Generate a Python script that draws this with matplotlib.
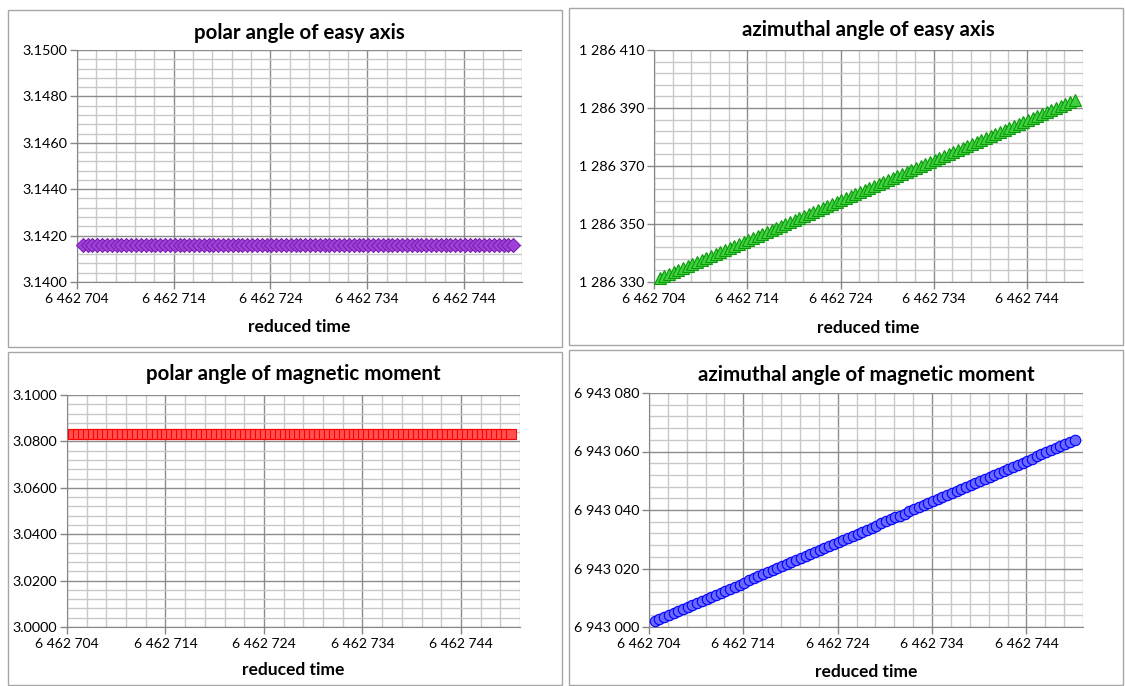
import matplotlib
matplotlib.use('Agg')
import matplotlib.pyplot as plt
from matplotlib.patches import Rectangle
from matplotlib.ticker import MultipleLocator, FuncFormatter

plt.rcParams['font.family'] = ['Lato', 'DejaVu Sans']

# reduced time (shared by all four series)
reduced_time = [
    6462704.6, 6462705.1, 6462705.6, 6462706.1, 6462706.6, 6462707.1, 6462707.6, 6462708.1, 6462708.6, 6462709.1,
    6462709.6, 6462710.1, 6462710.6, 6462711.1, 6462711.6, 6462712.1, 6462712.6, 6462713.1, 6462713.6, 6462714.1,
    6462714.6, 6462715.1, 6462715.6, 6462716.1, 6462716.6, 6462717.1, 6462717.6, 6462718.1, 6462718.6, 6462719.1,
    6462719.6, 6462720.1, 6462720.6, 6462721.1, 6462721.6, 6462722.1, 6462722.6, 6462723.1, 6462723.6, 6462724.1,
    6462724.6, 6462725.1, 6462725.6, 6462726.1, 6462726.6, 6462727.1, 6462727.6, 6462728.1, 6462728.6, 6462729.1,
    6462729.6, 6462730.1, 6462730.6, 6462731.1, 6462731.6, 6462732.1, 6462732.6, 6462733.1, 6462733.6, 6462734.1,
    6462734.6, 6462735.1, 6462735.6, 6462736.1, 6462736.6, 6462737.1, 6462737.6, 6462738.1, 6462738.6, 6462739.1,
    6462739.6, 6462740.1, 6462740.6, 6462741.1, 6462741.6, 6462742.1, 6462742.6, 6462743.1, 6462743.6, 6462744.1,
    6462744.6, 6462745.1, 6462745.6, 6462746.1, 6462746.6, 6462747.1, 6462747.6, 6462748.1, 6462748.6, 6462749.1,
]

polar_easy = [
    3.14159, 3.14159, 3.14159, 3.14159, 3.14159, 3.14159, 3.14159, 3.14159, 3.14159, 3.14159,
    3.14159, 3.14159, 3.14159, 3.14159, 3.14159, 3.14159, 3.14159, 3.14159, 3.14159, 3.14159,
    3.14159, 3.14159, 3.14159, 3.14159, 3.14159, 3.14159, 3.14159, 3.14159, 3.14159, 3.14159,
    3.14159, 3.14159, 3.14159, 3.14159, 3.14159, 3.14159, 3.14159, 3.14159, 3.14159, 3.14159,
    3.14159, 3.14159, 3.14159, 3.14159, 3.14159, 3.14159, 3.14159, 3.14159, 3.14159, 3.14159,
    3.14159, 3.14159, 3.14159, 3.14159, 3.14159, 3.14159, 3.14159, 3.14159, 3.14159, 3.14159,
    3.14159, 3.14159, 3.14159, 3.14159, 3.14159, 3.14159, 3.14159, 3.14159, 3.14159, 3.14159,
    3.14159, 3.14159, 3.14159, 3.14159, 3.14159, 3.14159, 3.14159, 3.14159, 3.14159, 3.14159,
    3.14159, 3.14159, 3.14159, 3.14159, 3.14159, 3.14159, 3.14159, 3.14159, 3.14159, 3.14159,
]

azimuthal_easy = [
    1286331.4, 1286332.1, 1286332.8, 1286333.5, 1286334.2, 1286334.9, 1286335.5, 1286336.2, 1286336.9, 1286337.6,
    1286338.3, 1286339.0, 1286339.7, 1286340.4, 1286341.1, 1286341.8, 1286342.4, 1286343.1, 1286343.8, 1286344.5,
    1286345.2, 1286345.9, 1286346.6, 1286347.3, 1286348.0, 1286348.7, 1286349.3, 1286350.0, 1286350.7, 1286351.4,
    1286352.1, 1286352.8, 1286353.5, 1286354.2, 1286354.9, 1286355.6, 1286356.2, 1286356.9, 1286357.6, 1286358.3,
    1286359.0, 1286359.7, 1286360.4, 1286361.1, 1286361.8, 1286362.5, 1286363.1, 1286363.8, 1286364.5, 1286365.2,
    1286365.9, 1286366.6, 1286367.3, 1286368.0, 1286368.7, 1286369.4, 1286370.0, 1286370.7, 1286371.4, 1286372.1,
    1286372.8, 1286373.5, 1286374.2, 1286374.9, 1286375.6, 1286376.3, 1286376.9, 1286377.6, 1286378.3, 1286379.0,
    1286379.7, 1286380.4, 1286381.1, 1286381.8, 1286382.5, 1286383.2, 1286383.8, 1286384.5, 1286385.2, 1286385.9,
    1286386.6, 1286387.3, 1286388.0, 1286388.7, 1286389.4, 1286390.1, 1286390.7, 1286391.4, 1286392.1, 1286392.8,
]

polar_moment = [
    3.0834, 3.0834, 3.0834, 3.0834, 3.0834, 3.0834, 3.0834, 3.0834, 3.0834, 3.0834,
    3.0834, 3.0834, 3.0834, 3.0834, 3.0834, 3.0834, 3.0834, 3.0834, 3.0834, 3.0834,
    3.0834, 3.0834, 3.0834, 3.0834, 3.0834, 3.0834, 3.0834, 3.0834, 3.0834, 3.0834,
    3.0834, 3.0834, 3.0834, 3.0834, 3.0834, 3.0834, 3.0834, 3.0834, 3.0834, 3.0834,
    3.0834, 3.0834, 3.0834, 3.0834, 3.0834, 3.0834, 3.0834, 3.0834, 3.0834, 3.0834,
    3.0834, 3.0834, 3.0834, 3.0834, 3.0834, 3.0834, 3.0834, 3.0834, 3.0834, 3.0834,
    3.0834, 3.0834, 3.0834, 3.0834, 3.0834, 3.0834, 3.0834, 3.0834, 3.0834, 3.0834,
    3.0834, 3.0834, 3.0834, 3.0834, 3.0834, 3.0834, 3.0834, 3.0834, 3.0834, 3.0834,
    3.0834, 3.0834, 3.0834, 3.0834, 3.0834, 3.0834, 3.0834, 3.0834, 3.0834, 3.0834,
]

azimuthal_moment = [
    6943002.0, 6943002.7, 6943003.4, 6943004.1, 6943004.8, 6943005.5, 6943006.2, 6943006.9, 6943007.6, 6943008.3,
    6943009.0, 6943009.7, 6943010.3, 6943011.0, 6943011.7, 6943012.4, 6943013.1, 6943013.8, 6943014.5, 6943015.2,
    6943015.9, 6943016.6, 6943017.3, 6943018.0, 6943018.7, 6943019.4, 6943020.1, 6943020.8, 6943021.5, 6943022.2,
    6943022.9, 6943023.6, 6943024.2, 6943024.9, 6943025.6, 6943026.3, 6943027.0, 6943027.7, 6943028.4, 6943029.1,
    6943029.8, 6943030.5, 6943031.2, 6943031.9, 6943032.6, 6943033.3, 6943034.0, 6943034.7, 6943035.4, 6943036.1,
    6943036.8, 6943037.5, 6943038.1, 6943038.8, 6943039.5, 6943040.2, 6943040.9, 6943041.6, 6943042.3, 6943043.0,
    6943043.7, 6943044.4, 6943045.1, 6943045.8, 6943046.5, 6943047.2, 6943047.9, 6943048.6, 6943049.3, 6943050.0,
    6943050.7, 6943051.4, 6943052.0, 6943052.7, 6943053.4, 6943054.1, 6943054.8, 6943055.5, 6943056.2, 6943056.9,
    6943057.6, 6943058.3, 6943059.0, 6943059.7, 6943060.4, 6943061.1, 6943061.8, 6943062.5, 6943063.2, 6943063.9,
]

W, H = 1125, 686
fig = plt.figure(figsize=(W / 100, H / 100), dpi=100)


def px_rect(x0, x1, y0, y1):
    return [x0 / W, 1 - y1 / H, (x1 - x0) / W, (y1 - y0) / H]


def spaced(v, pos):
    return f'{v:,.0f}'.replace(',', ' ')


# panel frames
for (x0, x1, y0, y1) in [(8, 562, 10, 347), (569, 1123, 8, 345), (8, 562, 352, 685), (569, 1123, 350, 685)]:
    fig.patches.append(Rectangle((x0 / W, 1 - y1 / H), (x1 - x0) / W, (y1 - y0) / H,
                                 transform=fig.transFigure, fill=False, edgecolor='#a6a6a6', linewidth=1.0))

panels = [
    # plot box, title, y data, ylim, major step, major offset, minor step, minor offset, y format,
    # marker, face, edge, size, title y, xlabel y
    ((77, 522, 50, 282), 'polar angle of easy axis', polar_easy, (3.14, 3.15), 0.002, 0, 0.0004, 0,
     FuncFormatter(lambda v, p: f'{v:.4f}'), 'D', '#a040d8', '#7a20b0', 7, 33, 327),
    ((654, 1083, 50, 282), 'azimuthal angle of easy axis', azimuthal_easy, (1286330, 1286410), 20, 10, 4, 2,
     FuncFormatter(spaced), '^', '#40d040', '#0a9a0a', 8.5, 30, 328),
    ((67, 520, 395, 627), 'polar angle of magnetic moment', polar_moment, (3.0, 3.1), 0.02, 0, 0.004, 0,
     FuncFormatter(lambda v, p: f'{v:.4f}'), 's', '#ff5050', '#ff0000', 7, 374, 670),
    ((649, 1083, 393, 627), 'azimuthal angle of magnetic moment', azimuthal_moment, (6943000, 6943080), 20, 0, 4, 0,
     FuncFormatter(spaced), 'o', '#6a6aff', '#0000ff', 7.5, 375, 672),
]

for box, title, ydata, ylim, ymaj, ymaj_off, ymin, ymin_off, yfmt, mk, fc, ec, ms, ty, ly in panels:
    ax = fig.add_axes(px_rect(*box))
    ax.plot(reduced_time, ydata, linestyle='none', marker=mk, markersize=ms,
            markerfacecolor=fc, markeredgecolor=ec, markeredgewidth=0.8, clip_on=False, zorder=3)
    ax.set_xlim(6462704, 6462750)
    ax.set_ylim(*ylim)
    ax.xaxis.set_major_locator(MultipleLocator(10, offset=4))
    ax.xaxis.set_minor_locator(MultipleLocator(2))
    ax.yaxis.set_major_locator(MultipleLocator(ymaj, offset=ymaj_off))
    ax.yaxis.set_minor_locator(MultipleLocator(ymin, offset=ymin_off))
    ax.xaxis.set_major_formatter(FuncFormatter(spaced))
    ax.yaxis.set_major_formatter(yfmt)
    ax.grid(which='minor', color='#c8c8c8', linewidth=1.0, zorder=0)
    ax.grid(which='major', color='#8c8c8c', linewidth=1.0, zorder=1)
    ax.set_axisbelow(True)
    for s in ['top', 'right']:
        ax.spines[s].set_visible(False)
    for s in ['left', 'bottom']:
        ax.spines[s].set_color('#868686')
    ax.tick_params(which='major', length=5, width=1, color='#868686', labelcolor='black')
    ax.tick_params(axis='x', which='major', labelsize=10, pad=3)
    ax.tick_params(axis='y', which='major', labelsize=10.4, pad=2)
    ax.tick_params(which='minor', length=0)
    cx = (box[0] + box[1]) / 2 / W
    fig.text(cx, 1 - ty / H, title, ha='center', va='center', fontsize=14.8, fontweight='bold')
    fig.text(cx, 1 - ly / H, 'reduced time', ha='center', va='center', fontsize=12.5, fontweight='bold')

fig.savefig('out.png', dpi=100)
